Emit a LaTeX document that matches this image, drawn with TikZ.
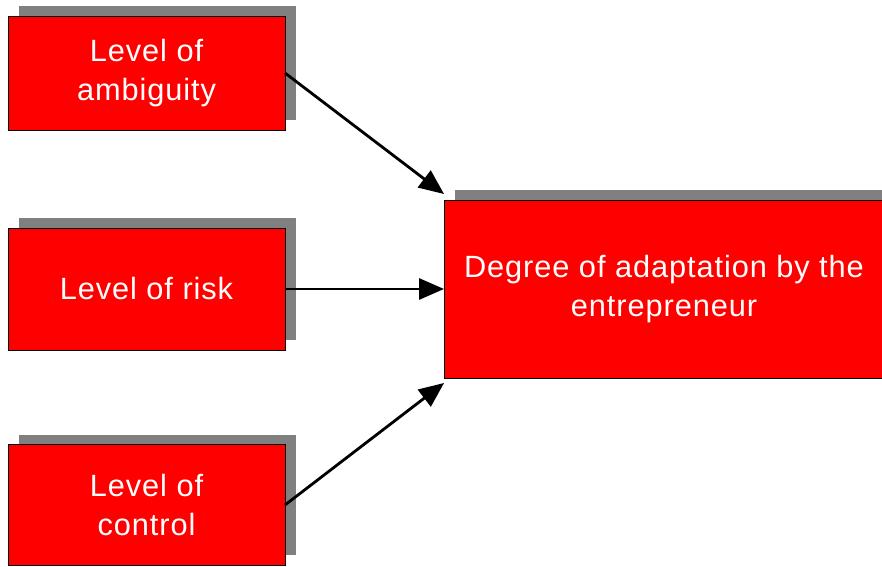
\documentclass[tikz,border=0pt]{standalone}
\usepackage{fontspec}
\setmainfont{Liberation Sans}
\newfontfamily\boxfont[LetterSpace=3]{Liberation Sans}
\usetikzlibrary{arrows.meta, positioning, shadows}
\definecolor{boxRed}{HTML}{FF0000}
\definecolor{shadowGrey}{HTML}{808080}

\tikzset{
  factor/.style={fill=boxRed, draw=black, line width=0.5pt, inner sep=0pt,
    outer sep=0pt, align=center, text=white,
    font=\boxfont\fontsize{17.5}{22.5}\selectfont,
    minimum width=5.54cm,
    drop shadow={shadow xshift=0.22cm, shadow yshift=0.2cm, fill=shadowGrey,
      opacity=1, draw=none}},
  link/.style={line width=1.6pt, -{Triangle[length=0.5cm, width=0.42cm]}}
}

\begin{document}
\begin{tikzpicture}[x=0.02cm, y=-0.02cm]
  \useasboundingbox (0,0) rectangle (882,567);

  % the three factors on the left
  \node[factor, minimum height=2.28cm] (amb) at (146.5,73) {Level of\\ambiguity};
  \node[factor, minimum height=2.44cm] (risk) at (146.5,289) {Level of risk};
  \node[factor, minimum height=2.42cm] (ctrl) at (146.5,505) {Level of\\control};

  % outcome
  \node[factor, minimum width=8.8cm, minimum height=3.56cm] (adapt) at (664,289)
    {Degree of adaptation by the\\entrepreneur};

  \draw[link] (amb.east) -- ([yshift=0.12cm]adapt.north west);
  \draw[link] (risk.east) -- (adapt.west);
  \draw[link] (ctrl.east) -- ([yshift=-0.1cm]adapt.south west);
\end{tikzpicture}
\end{document}
